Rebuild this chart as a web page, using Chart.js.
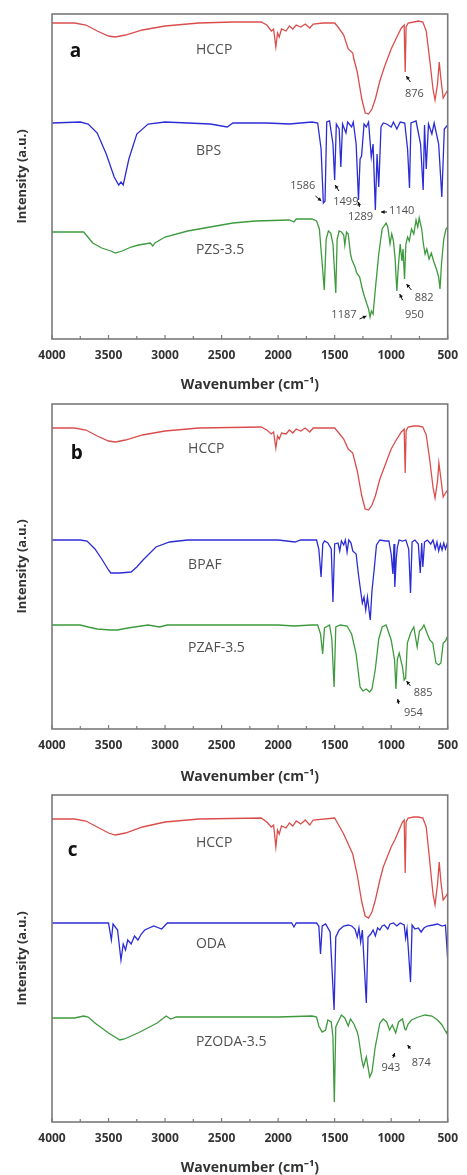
<!DOCTYPE html>
<html>
<head>
<meta charset="UTF-8">
<title>FTIR spectra</title>
<script src="https://cdn.jsdelivr.net/npm/chart.js@4.4.1/dist/chart.umd.min.js"></script>
<style>
  body { margin: 0; background: #fff; }
  canvas { position: absolute; left: 0; }
</style>
</head>
<body>
<canvas id="plot-a" width="467" height="392" style="top:0px"></canvas>
<canvas id="plot-b" width="467" height="392" style="top:392px"></canvas>
<canvas id="plot-c" width="467" height="391" style="top:784px"></canvas>

<script>
// ---- data: [wavenumber (cm-1), intensity (a.u., stacked)] ----

// panel a
const hccpA = [[4000,3.16],[3800,3.16],[3700,3.14],[3600,3.08],[3500,3.03],[3440,3.02],[3350,3.04],[3200,3.09],[3000,3.13],[2700,3.16],[2400,3.17],[2150,3.17],[2100,3.14],[2060,3.08],[2040,3.10],[2020,2.92],[2005,3.06],[1990,3.02],[1970,3.10],[1930,3.08],[1900,3.13],[1870,3.10],[1840,3.14],[1800,3.12],[1760,3.15],[1720,3.11],[1690,3.15],[1600,3.16],[1500,3.16],[1470,3.12],[1420,3.04],[1380,2.90],[1340,2.86],[1330,2.80],[1300,2.67],[1260,2.40],[1230,2.26],[1200,2.25],[1170,2.30],[1140,2.40],[1100,2.58],[1060,2.72],[1000,2.90],[950,3.02],[910,3.11],[885,3.14],[876,2.67],[868,3.12],[850,3.16],[800,3.17],[760,3.18],[720,3.17],[690,3.08],[660,2.80],[630,2.50],[612,2.39],[590,2.55],[575,2.77],[560,2.60],[540,2.41],[520,2.45],[500,2.49]];

const bpsA = [[4000,2.16],[3750,2.17],[3680,2.15],[3600,2.06],[3520,1.85],[3450,1.62],[3410,1.54],[3390,1.57],[3370,1.54],[3320,1.80],[3250,2.05],[3150,2.15],[3000,2.17],[2800,2.16],[2600,2.15],[2450,2.12],[2400,2.16],[2100,2.16],[1900,2.15],[1700,2.17],[1650,2.16],[1620,1.90],[1600,1.36],[1585,1.38],[1570,2.17],[1545,2.18],[1515,1.95],[1500,1.59],[1485,2.15],[1460,2.10],[1445,1.72],[1430,2.15],[1400,2.06],[1385,2.17],[1350,2.12],[1335,2.17],[1310,1.95],[1289,1.39],[1275,1.80],[1262,1.83],[1240,2.15],[1220,2.12],[1200,2.17],[1176,1.82],[1160,1.95],[1140,1.29],[1125,1.85],[1110,1.52],[1090,2.12],[1070,2.16],[1040,2.15],[1000,2.12],[980,2.17],[950,2.10],[920,2.17],[880,2.16],[855,1.90],[838,1.51],[825,2.16],[780,2.18],[740,1.95],[717,1.49],[705,2.14],[690,1.70],[670,2.15],[640,2.05],[620,2.16],[580,1.95],[552,1.42],[530,2.10],[500,2.14]];

const pzsA = [[4000,1.07],[3800,1.07],[3720,1.07],[3690,1.03],[3640,0.96],[3560,0.91],[3480,0.88],[3440,0.86],[3380,0.88],[3300,0.92],[3235,0.94],[3130,0.96],[3108,0.93],[3090,0.96],[3000,1.02],[2800,1.08],[2600,1.12],[2400,1.16],[2200,1.18],[1900,1.19],[1860,1.17],[1840,1.20],[1700,1.20],[1660,1.18],[1635,1.10],[1610,0.75],[1592,0.49],[1575,1.00],[1555,1.08],[1535,1.06],[1515,0.95],[1490,0.46],[1478,1.00],[1460,1.08],[1440,1.07],[1420,1.04],[1410,0.94],[1395,1.07],[1380,1.05],[1360,0.85],[1347,0.79],[1320,0.72],[1305,0.66],[1279,0.62],[1253,0.49],[1235,0.42],[1215,0.35],[1200,0.30],[1187,0.22],[1175,0.28],[1160,0.25],[1140,0.50],[1110,0.85],[1080,1.10],[1045,1.16],[1030,1.12],[1010,0.95],[995,1.05],[980,0.98],[965,0.80],[950,0.48],[935,0.75],[920,0.95],[905,0.78],[895,0.90],[882,0.60],[870,0.95],[855,1.02],[840,0.98],[820,1.10],[800,1.05],[780,1.19],[765,1.12],[752,1.21],[730,1.10],[715,0.95],[700,0.85],[685,0.90],[665,0.80],[645,0.86],[625,0.78],[600,0.70],[580,0.62],[568,0.50],[555,0.75],[535,1.00],[515,1.10],[500,1.12]];

// panel b
const hccpB = [[4000,3.01],[3800,3.01],[3700,2.99],[3600,2.93],[3500,2.88],[3440,2.87],[3350,2.89],[3200,2.94],[3000,2.98],[2700,3.01],[2150,3.02],[2100,2.99],[2060,2.95],[2040,2.97],[2020,2.81],[2005,2.93],[1990,2.90],[1970,2.96],[1930,2.95],[1900,2.99],[1870,2.96],[1840,3.00],[1800,2.98],[1760,3.01],[1720,2.97],[1690,3.01],[1500,3.01],[1470,2.97],[1420,2.90],[1380,2.80],[1340,2.76],[1300,2.58],[1260,2.33],[1230,2.20],[1200,2.19],[1170,2.24],[1140,2.33],[1100,2.50],[1060,2.62],[1000,2.80],[950,2.90],[910,2.97],[885,3.00],[876,2.56],[868,2.98],[850,3.02],[800,3.03],[760,3.03],[720,3.02],[690,2.94],[660,2.70],[630,2.42],[612,2.31],[590,2.48],[578,2.66],[560,2.50],[540,2.32],[520,2.36],[500,2.39]];

const bpafB = [[4000,1.89],[3750,1.89],[3690,1.88],[3620,1.80],[3560,1.70],[3500,1.59],[3480,1.56],[3400,1.56],[3300,1.57],[3250,1.62],[3195,1.69],[3080,1.82],[2960,1.87],[2800,1.89],[2400,1.89],[2000,1.89],[1850,1.87],[1800,1.89],[1660,1.89],[1640,1.80],[1620,1.52],[1605,1.85],[1590,1.88],[1560,1.86],[1530,1.80],[1515,1.27],[1500,1.85],[1470,1.86],[1455,1.78],[1440,1.88],[1420,1.84],[1405,1.89],[1390,1.77],[1375,1.89],[1355,1.86],[1340,1.78],[1310,1.75],[1290,1.55],[1270,1.38],[1255,1.26],[1240,1.32],[1225,1.19],[1210,1.32],[1185,1.09],[1170,1.38],[1150,1.60],[1130,1.84],[1100,1.89],[1050,1.88],[1020,1.88],[1000,1.75],[985,1.55],[975,1.85],[968,1.42],[955,1.70],[945,1.82],[930,1.89],[900,1.88],[870,1.89],[845,1.80],[829,1.36],[815,1.87],[790,1.89],[760,1.85],[743,1.56],[730,1.86],[720,1.62],[705,1.87],[680,1.89],[650,1.85],[630,1.89],[610,1.80],[595,1.87],[580,1.78],[565,1.85],[550,1.79],[535,1.86],[520,1.80],[500,1.87]];

const pzafB = [[4000,1.04],[3750,1.04],[3680,1.02],[3600,1.00],[3480,0.99],[3420,0.99],[3330,1.01],[3150,1.04],[3050,1.02],[2980,1.04],[2500,1.04],[2000,1.04],[1860,1.03],[1700,1.04],[1650,1.04],[1625,0.95],[1606,0.75],[1590,1.01],[1545,1.04],[1525,0.90],[1505,0.42],[1490,1.02],[1450,1.04],[1390,1.03],[1350,0.95],[1310,0.75],[1275,0.42],[1250,0.38],[1220,0.40],[1190,0.37],[1170,0.40],[1140,0.60],[1110,0.90],[1080,1.02],[1045,1.04],[1000,0.89],[970,0.69],[958,0.40],[945,0.70],[929,0.76],[900,0.62],[885,0.49],[872,0.51],[857,0.86],[828,0.96],[800,1.02],[770,0.82],[750,0.98],[730,1.00],[710,1.04],[680,0.95],[658,0.89],[632,0.86],[604,0.66],[580,0.64],[560,0.66],[540,0.86],[520,0.88],[500,0.93]];

// panel c
const hccpC = [[4000,3.03],[3800,3.03],[3700,3.01],[3600,2.95],[3500,2.89],[3440,2.87],[3350,2.89],[3200,2.95],[3000,3.00],[2700,3.03],[2150,3.04],[2100,3.00],[2060,2.95],[2040,2.97],[2020,2.75],[2005,2.92],[1990,2.88],[1970,2.96],[1930,2.94],[1900,2.99],[1870,2.96],[1840,3.01],[1800,2.98],[1760,3.02],[1720,2.97],[1690,3.02],[1500,3.04],[1470,2.98],[1420,2.88],[1380,2.78],[1340,2.68],[1300,2.47],[1260,2.20],[1230,2.06],[1200,2.04],[1170,2.10],[1140,2.22],[1100,2.42],[1070,2.55],[1000,2.75],[968,2.82],[930,2.92],[900,3.00],[885,3.02],[876,2.49],[868,3.00],[850,3.04],[800,3.05],[760,3.05],[720,3.04],[690,2.95],[660,2.62],[630,2.28],[612,2.17],[590,2.38],[575,2.60],[560,2.40],[540,2.22],[520,2.25],[500,2.29]];

const odaC = [[4000,1.99],[3600,1.99],[3500,1.99],[3475,1.82],[3460,1.98],[3420,1.92],[3390,1.62],[3370,1.78],[3350,1.72],[3330,1.82],[3300,1.78],[3270,1.86],[3240,1.82],[3210,1.88],[3180,1.92],[3100,1.96],[3030,1.93],[2980,1.99],[2500,1.99],[2000,1.99],[1880,1.99],[1860,1.95],[1840,1.99],[1660,1.99],[1640,1.96],[1625,1.68],[1610,1.96],[1580,1.98],[1540,1.90],[1505,1.12],[1490,1.85],[1460,1.92],[1420,1.96],[1380,1.97],[1350,1.96],[1320,1.93],[1300,1.85],[1285,1.94],[1270,1.80],[1255,1.92],[1220,1.19],[1205,1.85],[1180,1.88],[1160,1.92],[1140,1.86],[1120,1.94],[1100,1.92],[1080,1.96],[1060,1.97],[1030,1.93],[1010,1.98],[980,1.99],[950,1.96],[920,1.99],[885,1.97],[872,1.84],[860,1.93],[829,1.40],[815,1.97],[790,1.93],[760,1.94],[735,1.90],[710,1.94],[680,1.96],[630,1.97],[590,1.98],[550,1.96],[520,1.97],[510,1.80],[500,1.62]];

const pzodaC = [[4000,1.04],[3800,1.04],[3720,1.06],[3680,1.05],[3620,0.99],[3500,0.89],[3400,0.82],[3360,0.83],[3240,0.89],[3070,0.99],[2990,1.06],[2950,1.03],[2900,1.05],[2500,1.05],[2000,1.05],[1700,1.06],[1660,1.05],[1640,0.96],[1610,0.90],[1580,0.92],[1560,1.02],[1530,1.00],[1515,0.85],[1503,0.20],[1490,0.95],[1470,1.00],[1440,1.07],[1410,1.04],[1380,0.96],[1360,1.03],[1330,0.98],[1300,0.90],[1289,0.85],[1260,0.62],[1245,0.55],[1220,0.65],[1190,0.45],[1170,0.50],[1141,0.75],[1100,0.99],[1070,1.03],[1040,1.00],[1014,0.92],[990,0.97],[960,0.89],[935,1.00],[900,1.03],[880,0.93],[870,0.92],[850,0.98],[820,1.02],[760,1.05],[700,1.07],[640,1.06],[590,1.02],[550,0.97],[526,0.92],[510,0.89],[500,0.92]];

// x axis ticks
const xMin = 500, xMax = 4000, xStep = 500, xMinorStep = 250;

// labels: [text, wavenumber, intensity]
const namesA = [['HCCP', 2727, 2.89], ['BPS', 2727, 1.88], ['PZS-3.5', 2727, 0.89]];
const namesB = [['HCCP', 2796, 2.80], ['BPAF', 2796, 1.64], ['PZAF-3.5', 2796, 0.81]];
const namesC = [['HCCP', 2727, 2.79], ['ODA', 2727, 1.78], ['PZODA-3.5', 2727, 0.80]];

// peak marks: [text, label wn, label y, arrow tail wn, tail y, arrow head wn, head y]
const peaksA = [
  ['876', 795, 2.45, 830, 2.57, 866, 2.63],
  ['1586', 1782, 1.53, 1670, 1.43, 1618, 1.38],
  ['1499', 1401, 1.37, 1462, 1.48, 1496, 1.54],
  ['1289', 1271, 1.22, 1280, 1.32, 1289, 1.37],
  ['1140', 907, 1.28, 1037, 1.27, 1089, 1.27],
  ['882', 708, 0.41, 821, 0.49, 864, 0.55],
  ['950', 795, 0.24, 899, 0.39, 925, 0.45],
  ['1187', 1418, 0.24, 1280, 0.20, 1219, 0.23]
];
const peaksB = [
  ['885', 717, 0.36, 829, 0.43, 864, 0.48],
  ['954', 803, 0.16, 933, 0.25, 942, 0.30]
];
const peaksC = [
  ['943', 1003, 0.54, 985, 0.64, 968, 0.69],
  ['874', 734, 0.59, 829, 0.73, 855, 0.77]
];

const colRed = '#db4d4d', colBlue = '#2c2cd6', colGreen = '#3d9a3d';

Chart.defaults.font.family = "'Open Sans', sans-serif";

// frame, inward ticks, text labels and arrows
const framePlugin = {
  id: 'frame',
  afterDatasetsDraw(chart, args, opts) {
    const { ctx, chartArea: a, scales: { x, y } } = chart;
    ctx.save();
    ctx.strokeStyle = '#7a7a7a';
    ctx.lineWidth = 1.2;
    for (let w = xMin; w <= xMax; w += xMinorStep) {
      const px = x.getPixelForValue(w);
      const len = (w % xStep === 0) ? 4 : 3;
      ctx.beginPath();
      ctx.moveTo(px, a.bottom);
      ctx.lineTo(px, a.bottom - len);
      ctx.stroke();
    }
    ctx.lineWidth = 1.6;
    ctx.strokeRect(a.left, a.top, a.right - a.left, a.bottom - a.top);

    // panel letter
    ctx.fillStyle = '#111';
    ctx.font = "bold 19px 'Open Sans', sans-serif";
    ctx.textBaseline = 'middle';
    ctx.textAlign = 'left';
    ctx.fillText(opts.letter[0], x.getPixelForValue(opts.letter[1]), y.getPixelForValue(opts.letter[2]));

    // sample names
    ctx.fillStyle = '#505050';
    ctx.font = "14px 'Open Sans', sans-serif";
    opts.names.forEach(n => {
      ctx.fillText(n[0], x.getPixelForValue(n[1]), y.getPixelForValue(n[2]));
    });

    // peak labels with little arrows
    ctx.font = "11px 'Open Sans', sans-serif";
    ctx.textAlign = 'center';
    opts.peaks.forEach(p => {
      ctx.fillStyle = '#505050';
      ctx.fillText(p[0], x.getPixelForValue(p[1]), y.getPixelForValue(p[2]));
      const x0 = x.getPixelForValue(p[3]), y0 = y.getPixelForValue(p[4]);
      const x1 = x.getPixelForValue(p[5]), y1 = y.getPixelForValue(p[6]);
      const ang = Math.atan2(y1 - y0, x1 - x0);
      ctx.strokeStyle = '#111';
      ctx.fillStyle = '#111';
      ctx.lineWidth = 1;
      ctx.beginPath();
      ctx.moveTo(x0, y0);
      ctx.lineTo(x1, y1);
      ctx.stroke();
      ctx.beginPath();
      ctx.moveTo(x1, y1);
      ctx.lineTo(x1 - 4 * Math.cos(ang - 0.5), y1 - 4 * Math.sin(ang - 0.5));
      ctx.lineTo(x1 - 4 * Math.cos(ang + 0.5), y1 - 4 * Math.sin(ang + 0.5));
      ctx.closePath();
      ctx.fill();
    });
    ctx.restore();
  }
};

function toXY(arr) {
  return arr.map(p => ({ x: p[0], y: p[1] }));
}

function makePanel(id, series, yMax, padTop, xHeight, names, letter, peaks) {
  const colors = [colRed, colBlue, colGreen];
  return new Chart(document.getElementById(id), {
    type: 'line',
    data: {
      datasets: series.map((s, i) => ({
        data: toXY(s),
        borderColor: colors[i],
        borderWidth: 1.3,
        pointRadius: 0,
        fill: false,
        tension: 0
      }))
    },
    options: {
      responsive: false,
      animation: false,
      events: [],
      layout: { padding: { top: padTop, right: 11, left: 0, bottom: 0 } },
      plugins: {
        legend: { display: false },
        tooltip: { enabled: false },
        frame: { names: names, letter: letter, peaks: peaks }
      },
      scales: {
        x: {
          type: 'linear',
          reverse: true,
          min: xMin,
          max: xMax,
          grid: { display: false, drawTicks: false },
          border: { display: false },
          ticks: {
            stepSize: xStep,
            padding: 9,
            color: '#333',
            font: { size: 12, weight: 'bold' },
            callback: v => String(v)
          },
          title: {
            display: true,
            text: 'Wavenumber (cm⁻¹)',
            color: '#333',
            font: { size: 14, weight: 'bold', lineHeight: 1 },
            padding: { top: 0, bottom: 0 }
          },
          afterFit(scale) { scale.height = xHeight; }
        },
        y: {
          min: 0,
          max: yMax,
          grid: { display: false, drawTicks: false },
          border: { display: false },
          ticks: { display: false },
          title: {
            display: true,
            text: 'Intensity (a.u.)',
            color: '#333',
            font: { size: 13, weight: 'bold', lineHeight: 1 },
            padding: { top: 16, bottom: 0 }
          },
          afterFit(scale) { scale.width = 52; }
        }
      }
    },
    plugins: [framePlugin]
  });
}

makePanel('plot-a', [hccpA, bpsA, pzsA], 3.25, 14, 53, namesA, ['a', 3844, 2.87], peaksA);
makePanel('plot-b', [hccpB, bpafB, pzafB], 3.25, 12, 55, namesB, ['b', 3835, 2.75], peaksB);
makePanel('plot-c', [hccpC, odaC, pzodaC], 3.27, 11, 53, namesC, ['c', 3861, 2.71], peaksC);
</script>
</body>
</html>
